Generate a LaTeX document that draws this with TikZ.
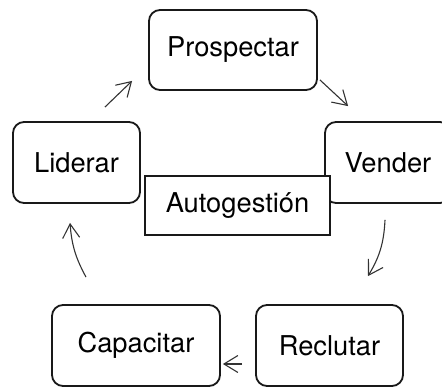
\documentclass[tikz,border=0pt]{standalone}
\usepackage{fontspec}
\setmainfont{TeX Gyre Heros}
\usetikzlibrary{arrows.meta,calc}
\tikzset{
  stage/.style={draw=black!90, line width=1.8pt, rounded corners=11pt, fill=white,
    font=\fontsize{27.3}{32}\selectfont, inner sep=0pt},
  core/.style={draw=black!90, line width=1.8pt, fill=white,
    font=\fontsize{27.3}{32}\selectfont, inner sep=0pt},
  flow/.style={draw=black!80, line width=1.1pt,
    -{Straight Barb[length=14pt,width=17pt,line width=1.1pt]}},
}
\begin{document}
\begin{tikzpicture}[x=1pt,y=-1pt]
  \useasboundingbox (0,0) rectangle (442,387);
  \clip (0,0) rectangle (442,387);
  % the five stages of the cycle
  \node[stage, minimum width=168pt, minimum height=80pt] (pro) at (233,50) {Prospectar};
  \node[stage, minimum width=126pt, minimum height=81pt] (ven) at (388,162.5) {Vender};
  \node[stage, minimum width=127pt, minimum height=81pt] (lid) at (76.5,162.5) {Liderar};
  \node[stage, minimum width=168pt, minimum height=81pt] (cap) at (136,345.5) {Capacitar};
  \node[stage, minimum width=147pt, minimum height=81pt] (rec) at (329.5,345.5) {Reclutar};
  % central label, drawn over the Vender box
  \node[core, minimum width=185pt, minimum height=59pt] (auto) at (237.5,205.5) {Autogesti\'on};
  % arrows between stages
  \draw[flow] ($(lid.north east)+(-36,-14)$) -- ($(pro.south west)+(-16,-10)$);
  \draw[flow] ($(pro.south east)+(2,-11)$) -- ($(ven.north west)+(24,-15)$);
  \draw[flow] ($(ven.south)+(-3,16)$) to[bend left=14] ($(rec.north)+(38.5,-28)$);
  \draw[flow] ($(rec.west)+(-13,18.5)$) -- ($(cap.east)+(2,18.5)$);
  \draw[flow] ($(cap.north)+(-50,-27)$) to[bend left=12] ($(lid.south)+(-6.5,19)$);
\end{tikzpicture}
\end{document}
